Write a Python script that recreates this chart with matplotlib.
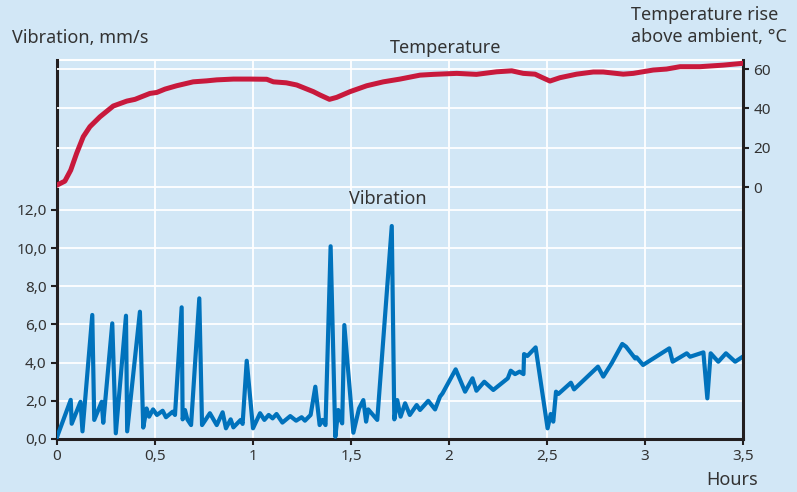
import matplotlib
matplotlib.use("Agg")
import matplotlib.pyplot as plt

# ---- data ----
vib_hours = [0.0, 0.07, 0.075, 0.12, 0.13, 0.18, 0.19, 0.228, 0.236, 0.282, 0.30,
             0.352, 0.358, 0.423, 0.44, 0.457, 0.47, 0.49, 0.51, 0.539, 0.556, 0.59,
             0.602, 0.636, 0.641, 0.653, 0.665, 0.684, 0.726, 0.74, 0.78, 0.815,
             0.845, 0.862, 0.886, 0.90, 0.937, 0.947, 0.968, 1.0, 1.036, 1.058,
             1.08, 1.10, 1.12, 1.15, 1.19, 1.22, 1.248, 1.265, 1.294, 1.318, 1.34,
             1.354, 1.37, 1.396, 1.42, 1.435, 1.444, 1.455, 1.466, 1.512, 1.541,
             1.563, 1.577, 1.588, 1.634, 1.708, 1.721, 1.736, 1.753, 1.776, 1.80,
             1.835, 1.852, 1.894, 1.929, 1.954, 1.967, 2.034, 2.082, 2.12, 2.14,
             2.18, 2.226, 2.30, 2.315, 2.337, 2.36, 2.38, 2.383, 2.40, 2.442, 2.503,
             2.519, 2.532, 2.546, 2.558, 2.622, 2.638, 2.76, 2.787, 2.83, 2.884,
             2.903, 2.95, 2.957, 2.99, 3.124, 3.141, 3.213, 3.23, 3.298, 3.318,
             3.335, 3.374, 3.413, 3.46, 3.498]
vibration = [0.1, 2.05, 0.8, 1.95, 0.4, 6.5, 1.0, 1.95, 0.85, 6.06, 0.3,
             6.46, 0.4, 6.67, 0.6, 1.6, 1.17, 1.55, 1.26, 1.48, 1.14, 1.43,
             1.26, 6.9, 1.03, 1.52, 1.03, 0.73, 7.37, 0.73, 1.35, 0.73,
             1.4, 0.56, 1.03, 0.61, 1.0, 0.79, 4.1, 0.56, 1.35, 1.0,
             1.26, 1.08, 1.31, 0.86, 1.2, 0.96, 1.14, 0.96, 1.26, 2.74, 0.73,
             1.0, 0.73, 10.1, 0.12, 1.52, 1.08, 0.82, 5.97, 0.33, 1.6,
             2.04, 0.91, 1.55, 1.0, 11.16, 1.03, 2.04, 1.17, 1.87, 1.26,
             1.78, 1.52, 2.0, 1.55, 2.22, 2.39, 3.65, 2.48, 3.18, 2.53,
             3.0, 2.57, 3.18, 3.58, 3.4, 3.53, 3.4, 4.45, 4.35, 4.8, 0.56,
             1.31, 0.91, 2.48, 2.36, 2.95, 2.6, 3.79, 3.27, 3.97, 4.98,
             4.84, 4.22, 4.28, 3.88, 4.75, 4.05, 4.49, 4.31, 4.54, 2.13,
             4.49, 4.05, 4.49, 4.05, 4.31]

temp_hours = [0.0, 0.04, 0.07, 0.10, 0.134, 0.168, 0.219, 0.287, 0.356, 0.398, 0.474,
              0.509, 0.551, 0.61, 0.695, 0.764, 0.815, 0.90, 0.985, 1.07, 1.104,
              1.17, 1.223, 1.308, 1.342, 1.39, 1.427, 1.495, 1.58, 1.665, 1.75,
              1.852, 1.92, 2.04, 2.14, 2.243, 2.32, 2.379, 2.439, 2.473, 2.515,
              2.566, 2.651, 2.736, 2.787, 2.889, 2.94, 3.042, 3.11, 3.179, 3.28,
              3.40, 3.498]
temperature = [1.0, 3.0, 8.6, 17.1, 25.6, 30.7, 35.7, 41.2, 43.7, 44.6, 47.6,
               48.1, 49.8, 51.5, 53.5, 54.0, 54.5, 54.9, 54.9, 54.8, 53.5,
               53.0, 51.9, 48.5, 46.8, 44.6, 45.6, 48.5, 51.5, 53.5, 54.9,
               56.9, 57.3, 57.8, 57.3, 58.6, 59.1, 57.8, 57.4, 55.8, 53.9,
               55.6, 57.4, 58.5, 58.5, 57.4, 57.8, 59.5, 60.0, 61.2, 61.2,
               62.0, 62.9]

x_ticks = [0, 0.5, 1, 1.5, 2, 2.5, 3, 3.5]
x_labels = ["0", "0,5", "1", "1,5", "2", "2,5", "3", "3,5"]
vib_ticks = [0, 2, 4, 6, 8, 10, 12]
vib_labels = ["0,0", "2,0", "4,0", "6,0", "8,0", "10,0", "12,0"]
temp_ticks = [0, 20, 40, 60]
temp_labels = ["0", "20", "40", "60"]

# ---- style ----
BG = "#D2E7F6"
RED = "#C8193C"
BLUE = "#0072BC"
DARK = "#231F20"
TXT = "#333333"
plt.rcParams['font.family'] = ['Noto Sans', 'DejaVu Sans']

fig = plt.figure(figsize=(7.97, 4.92), dpi=100, facecolor=BG)
ax = fig.add_axes([57/797, 1 - 439/492, 686/797, 379/492])
ax.set_facecolor(BG)
ax2 = ax.twinx()

ax.set_xlim(0, 3.5)
ax.set_ylim(0, 19.86)
ax2.set_ylim(-128.1, 64.6)

ax.set_axisbelow(True)
ax2.set_axisbelow(True)

ax.plot(vib_hours, vibration, color=BLUE, lw=3.0, solid_joinstyle='round', zorder=3)
ax2.plot(temp_hours, temperature, color=RED, lw=3.6, solid_joinstyle='round', zorder=3)

ax.set_xticks(x_ticks)
ax.set_xticklabels(x_labels)
ax.set_yticks(vib_ticks)
ax.set_yticklabels(vib_labels)
ax2.set_yticks(temp_ticks)
ax2.set_yticklabels(temp_labels)

ax.grid(True, axis='both', color='white', lw=1.3)
ax2.grid(True, axis='y', color='white', lw=1.3)
ax.axhline(19.86, color='white', lw=1.5, clip_on=False, zorder=1)

for a in (ax, ax2):
    a.spines['top'].set_visible(False)
    for s in ('left', 'right', 'bottom'):
        a.spines[s].set_color(DARK)
        a.spines[s].set_linewidth(2.2)
    a.tick_params(colors=DARK, labelcolor=TXT, labelsize=11, width=1.5, length=4)
ax.spines['right'].set_visible(False)
ax2.spines['left'].set_visible(False)
ax2.spines['bottom'].set_visible(False)
ax.tick_params(axis='x', pad=3)

FS = 13
fig.text(12/797, 1 - 38/492, "Vibration, mm/s", fontsize=FS, color=TXT, va='center', ha='left')
fig.text(631/797, 1 - 26/492, "Temperature rise\nabove ambient, °C", fontsize=FS,
         color=TXT, va='center', ha='left', linespacing=1.3)
fig.text(758/797, 1 - 480/492, "Hours", fontsize=FS, color=TXT, va='center', ha='right')
fig.text(445.5/797, 1 - 48/492, "Temperature", fontsize=FS, color=TXT, ha='center', va='center')
fig.text(388/797, 1 - 199/492, "Vibration", fontsize=FS, color=TXT, ha='center', va='center')

fig.savefig("out.png", dpi=100, facecolor=BG)
